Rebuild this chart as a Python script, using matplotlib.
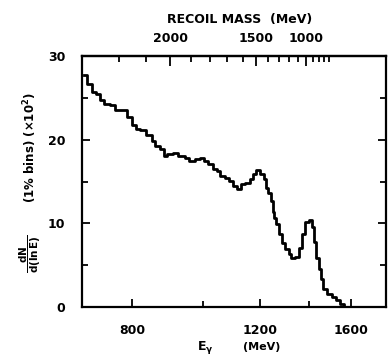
import numpy as np
import matplotlib
matplotlib.use("Agg")
import matplotlib.pyplot as plt
from matplotlib.ticker import FixedLocator, NullFormatter

plt.rcParams['font.family'] = 'DejaVu Sans'
plt.rcParams['font.weight'] = 'bold'
plt.rcParams['mathtext.fontset'] = 'dejavusans'
plt.rcParams['mathtext.default'] = 'bf'

# inclusive photon spectrum, J/psi -> gamma X
energy = [687, 700, 712, 718, 727, 739, 753, 763, 775, 782, 795, 803, 815, 828,
          847, 855, 868, 880, 888, 902, 917, 931, 940, 952, 967, 983, 999, 1008,
          1024, 1041, 1050, 1064, 1081, 1097, 1108, 1126, 1136, 1151, 1170, 1180,
          1192, 1207, 1219, 1226, 1238, 1246, 1250, 1258, 1266, 1278, 1290, 1307,
          1319, 1331, 1348, 1362, 1375, 1392, 1405, 1419, 1428, 1437, 1451, 1459,
          1473, 1497, 1520, 1535, 1555, 1570, 1595]
counts = [27.7, 26.7, 25.7, 25.5, 24.7, 24.3, 24.1, 23.5, 23.5, 23.6, 22.7, 21.7,
          21.3, 21.1, 20.6, 19.9, 19.3, 18.9, 18.1, 18.3, 18.4, 18.1, 18.1, 17.8,
          17.5, 17.7, 17.8, 17.5, 17.1, 16.5, 16.3, 15.7, 15.4, 15.1, 14.5, 14.1,
          14.7, 14.8, 15.3, 15.9, 16.4, 15.9, 15.3, 14.2, 13.6, 12.7, 11.4, 10.6,
          9.9, 8.7, 7.6, 6.9, 6.3, 5.8, 6.0, 7.0, 8.7, 10.2, 10.4, 9.6, 7.8, 5.8,
          4.6, 3.4, 2.2, 1.6, 1.2, 0.8, 0.4, 0.0, 0.0]

e_ticks = [800, 1200, 1600]
e_minor = [1000, 1400]
y_ticks = [0, 10, 20, 30]
y_minor = [5, 15, 25]

# recoil mass scale on top, M^2 = s - 2 sqrt(s) E
sqrt_s = 3097.0
mass_labels = [2000, 1500, 1000]
mass_minor = list(range(2200, 500, -100))


def mass_to_energy(m):
    m = np.asarray(m, dtype=float)
    return (sqrt_s**2 - m**2) / (2 * sqrt_s)


fig = plt.figure(figsize=(3.88, 3.58), dpi=100)
ax = fig.add_axes([82/388, 1 - 307/358, (386 - 82)/388, (307 - 56)/358])

ax.step(energy, counts, where='mid', color='black', lw=2.0)

ax.set_xscale('log')
ax.set_xlim(683, 1787)
ax.set_ylim(0, 30)

ax.xaxis.set_major_locator(FixedLocator(e_ticks))
ax.xaxis.set_minor_locator(FixedLocator(e_minor))
ax.set_xticklabels([str(t) for t in e_ticks])
ax.xaxis.set_minor_formatter(NullFormatter())
ax.set_yticks(y_ticks)
ax.set_yticks(y_minor, minor=True)

for s in ax.spines.values():
    s.set_linewidth(1.6)

ax.tick_params(which='both', direction='in', width=1.3, labelsize=9,
               right=True)
ax.tick_params(which='major', length=6)
ax.tick_params(which='minor', length=4)
ax.tick_params(axis='x', which='both', pad=12)
ax.tick_params(axis='y', which='both', pad=12)

top = ax.secondary_xaxis('top')
top.set_xticks(mass_to_energy(mass_labels))
top.set_xticklabels([str(m) for m in mass_labels])
top.xaxis.set_minor_locator(FixedLocator(mass_to_energy(mass_minor)))
top.xaxis.set_minor_formatter(NullFormatter())
top.tick_params(which='both', direction='in', width=1.3, labelsize=9, pad=8)
top.tick_params(which='major', length=7)
top.tick_params(which='minor', length=4)
top.spines['top'].set_linewidth(1.6)

fig.text(240/388, 1 - 19/358, 'RECOIL MASS  (MeV)', ha='center', va='center',
         fontsize=9, fontweight='bold')
fig.text(205/388, 1 - 348/358, r'E$_\gamma$', ha='center', va='center',
         fontsize=9, fontweight='bold')
fig.text(262/388, 1 - 347/358, '(MeV)', ha='center', va='center',
         fontsize=8, fontweight='bold')
fig.text(30/388, 1 - 254/358, r'$\dfrac{dN}{d(\ln E)}$',
         ha='center', va='center', rotation=90, fontsize=7.5)
fig.text(30/388, 1 - 148/358, r'(1% bins) ($\times 10^2$)',
         ha='center', va='center', rotation=90, fontsize=8.5, fontweight='bold')

fig.savefig('out.png', dpi=100)
